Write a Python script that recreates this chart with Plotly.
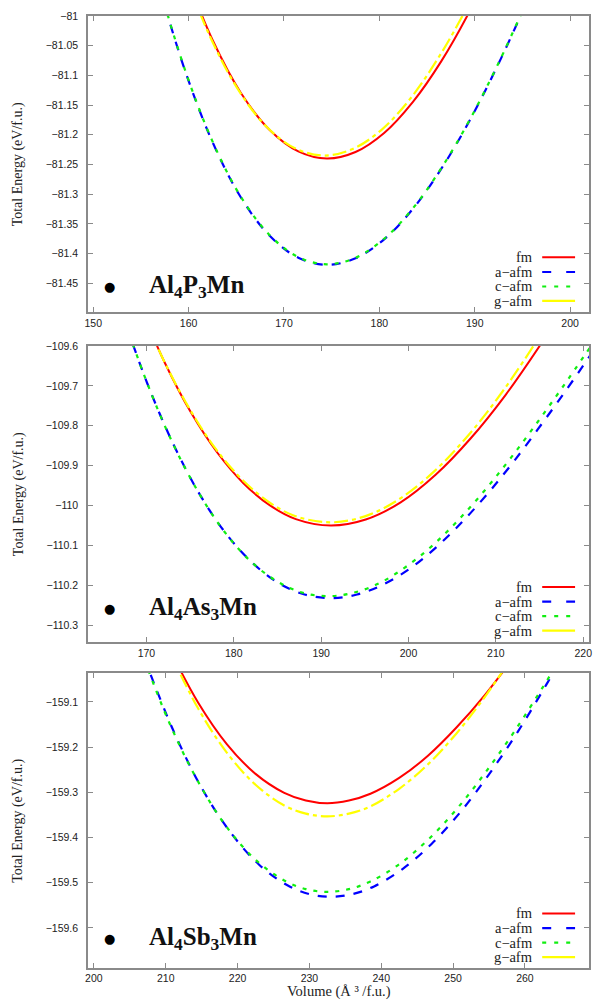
import plotly.graph_objects as go

# ---------------- data ----------------
# Panel 1 : Al4P3Mn
V1_fm = [159.5, 162.5, 165.5, 168.5, 171.5, 174.5, 177.5, 180.5, 183.5, 186.5, 189.5, 192.5]
E1_fm = [-80.921, -81.040, -81.130, -81.192, -81.228, -81.240, -81.229, -81.197, -81.145, -81.076, -80.991, -80.891]
V1_g = [159.2, 162.2, 165.2, 168.2, 171.2, 174.2, 177.2, 180.2, 183.2, 186.2, 189.2, 192.2]
E1_g = [-80.912, -81.033, -81.124, -81.187, -81.223, -81.235, -81.224, -81.192, -81.140, -81.070, -80.985, -80.885]
V1_a = [156.5, 159.5, 162.5, 165.5, 168.5, 171.5, 174.5, 177.5, 180.5, 183.5, 186.5, 189.5, 192.5, 195.5]
E1_a = [-80.927, -81.086, -81.212, -81.306, -81.370, -81.407, -81.419, -81.408, -81.376, -81.325, -81.257, -81.175, -81.080, -80.975]
V1_c = [156.5, 159.5, 162.5, 165.5, 168.5, 171.5, 174.5, 177.5, 180.5, 183.5, 186.5, 189.5, 192.5, 195.5]
E1_c = [-80.926, -81.085, -81.211, -81.305, -81.369, -81.406, -81.418, -81.407, -81.375, -81.324, -81.256, -81.174, -81.079, -80.974]

# Panel 2 : Al4As3Mn
V2_fm = [169.1, 172.1, 175.1, 178.1, 181.1, 184.1, 187.1, 191.1, 195.1, 199.1, 203.1, 207.1, 211.1, 215.1, 218.1]
E2_fm = [-109.492, -109.642, -109.767, -109.867, -109.944, -109.999, -110.034, -110.050, -110.035, -109.992, -109.923, -109.832, -109.723, -109.597, -109.494]
V2_g = [169.0, 172.0, 175.0, 178.0, 181.0, 184.0, 187.0, 191.0, 195.0, 199.0, 203.0, 207.0, 211.0, 215.0, 218.0]
E2_g = [-109.489, -109.637, -109.760, -109.860, -109.936, -109.991, -110.026, -110.042, -110.027, -109.983, -109.913, -109.820, -109.707, -109.576, -109.468]
V2_a = [167.1, 170.1, 173.1, 176.1, 179.1, 182.1, 185.1, 188.1, 191.1, 194.1, 197.1, 200.1, 203.1, 206.1, 209.1, 212.1, 215.1, 218.1, 221.1]
E2_a = [-109.511, -109.694, -109.847, -109.972, -110.070, -110.143, -110.194, -110.223, -110.232, -110.223, -110.198, -110.159, -110.106, -110.042, -109.969, -109.888, -109.800, -109.709, -109.614]
V2_c = [166.8, 169.8, 172.8, 175.8, 178.8, 181.8, 184.8, 187.8, 190.8, 193.8, 196.8, 199.8, 202.8, 205.8, 208.8, 211.8, 214.8, 217.8, 220.8]
E2_c = [-109.490, -109.677, -109.834, -109.961, -110.062, -110.137, -110.188, -110.218, -110.227, -110.218, -110.193, -110.152, -110.099, -110.034, -109.960, -109.878, -109.790, -109.698, -109.603]

# Panel 3 : Al4Sb3Mn
V3_fm = [210.5, 214.5, 218.5, 222.5, 226.5, 229.5, 232.5, 235.5, 238.5, 242.5, 246.5, 250.5, 254.5, 258.5]
E3_fm = [-158.982, -159.101, -159.193, -159.259, -159.301, -159.318, -159.324, -159.318, -159.303, -159.268, -159.219, -159.156, -159.083, -159.000]
V3_g = [210.5, 214.5, 218.5, 222.5, 226.5, 229.5, 232.5, 235.5, 238.5, 242.5, 246.5, 250.5, 254.5, 258.5]
E3_g = [-158.987, -159.114, -159.212, -159.283, -159.329, -159.347, -159.353, -159.347, -159.331, -159.292, -159.238, -159.169, -159.087, -158.994]
V3_a = [207, 211, 215, 219, 223, 227, 230, 233, 236, 239, 243, 247, 251, 255, 259, 263, 266]
E3_a = [-159.002, -159.161, -159.290, -159.388, -159.460, -159.506, -159.525, -159.531, -159.525, -159.508, -159.469, -159.414, -159.344, -159.260, -159.166, -159.061, -158.978]
V3_c = [206.5, 210.5, 214.5, 218.5, 222.5, 226.5, 229.5, 232.5, 235.5, 238.5, 242.5, 246.5, 250.5, 254.5, 258.5, 262.5, 265.5]
E3_c = [-158.984, -159.146, -159.276, -159.377, -159.449, -159.495, -159.514, -159.520, -159.514, -159.497, -159.459, -159.405, -159.337, -159.256, -159.166, -159.067, -158.989]

series_names = ["fm", "a\u2212afm", "c\u2212afm", "g\u2212afm"]
compound_labels = ["Al<sub>4</sub>P<sub>3</sub>Mn", "Al<sub>4</sub>As<sub>3</sub>Mn", "Al<sub>4</sub>Sb<sub>3</sub>Mn"]

x_ticks = [[150, 160, 170, 180, 190, 200],
           [170, 180, 190, 200, 210, 220],
           [200, 210, 220, 230, 240, 250, 260]]
y_ticks = [[-81.45, -81.4, -81.35, -81.3, -81.25, -81.2, -81.15, -81.1, -81.05, -81.0],
           [-110.3, -110.2, -110.1, -110.0, -109.9, -109.8, -109.7, -109.6],
           [-159.6, -159.5, -159.4, -159.3, -159.2, -159.1]]

x_title = "Volume (\u00c5 \u00b3 /f.u.)"
y_title = "Total Energy (eV/f.u.)"

# ---------------- styling ----------------
panels = [
    dict(fm=(V1_fm, E1_fm), a=(V1_a, E1_a), c=(V1_c, E1_c), g=(V1_g, E1_g)),
    dict(fm=(V2_fm, E2_fm), a=(V2_a, E2_a), c=(V2_c, E2_c), g=(V2_g, E2_g)),
    dict(fm=(V3_fm, E3_fm), a=(V3_a, E3_a), c=(V3_c, E3_c), g=(V3_g, E3_g)),
]
styles = {
    "fm": dict(color="#ff0000", width=2, dash="solid"),
    "a": dict(color="#0000ff", width=2.2, dash="9px,9px"),
    "c": dict(color="#11ee11", width=2.2, dash="4px,7px"),
    "g": dict(color="#ffff00", width=2.2, dash="14px,4px,4px,4px"),
}
legend_styles = {
    "fm": dict(color="#ff0000", width=2, dash="solid"),
    "a": dict(color="#0000ff", width=2.2, dash="9px,15px"),
    "c": dict(color="#11ee11", width=2.2, dash="4px,8px"),
    "g": dict(color="#ffff00", width=2.2, dash="solid"),
}
order = ["fm", "a", "c", "g"]

x_ranges = [[149.45, 201.98], [163.31, 220.66], [199.18, 268.92]]
y_ranges = [[-81.4983, -81.0], [-110.3411, -109.6], [-159.6885, -159.0358]]
y_domains = [[0.6891, 1.0], [0.3428, 0.6534], [0.0, 0.3099]]
label_y = [0.0855, 0.1106, 0.0983]
x_label_standoff = [1, 1, 0]

frame = "#8a8a8a"
tick_font = dict(family="Liberation Sans, Arial, sans-serif", size=10.5, color="#222222")
serif = "Liberation Serif, Times New Roman, serif"

fig = go.Figure()
layout = dict(
    width=593, height=1002,
    margin=dict(l=88, r=2, t=16, b=34),
    paper_bgcolor="white", plot_bgcolor="white",
    showlegend=False,
)
annotations = []
shapes = []

for i, pan in enumerate(panels):
    n = "" if i == 0 else str(i + 1)
    xa, ya = "x" + n, "y" + n
    for key in order:
        v, e = pan[key]
        fig.add_trace(go.Scatter(
            x=v, y=e, mode="lines", xaxis=xa, yaxis=ya,
            line=dict(shape="spline", smoothing=1, **styles[key]),
            name=series_names[order.index(key)], hoverinfo="skip",
        ))
    common = dict(showgrid=False, zeroline=False, showline=True, linecolor=frame, linewidth=1.5,
                  mirror="ticks", ticks="inside", ticklen=5, tickwidth=1, tickcolor=frame,
                  tickfont=tick_font)
    layout["xaxis" + n] = dict(common, range=x_ranges[i], tickvals=x_ticks[i], anchor=ya,
                               domain=[0, 1], ticklabelstandoff=x_label_standoff[i])
    layout["yaxis" + n] = dict(common, range=y_ranges[i], tickvals=y_ticks[i], anchor=xa,
                               domain=y_domains[i], ticklabelstandoff=6)

    xd, yd = xa + " domain", ya + " domain"
    # legend: text, then line sample to its right
    rows = [0.1848, 0.1351, 0.0861, 0.0372]
    for k, key in enumerate(order):
        annotations.append(dict(xref=xd, yref=yd, x=0.8926, y=rows[k], xanchor="right", yanchor="middle",
                                text=series_names[k], showarrow=False,
                                font=dict(family=serif, size=14.5, color="#222222")))
        shapes.append(dict(type="line", xref=xd, yref=yd, x0=0.9066, x1=0.9722, y0=rows[k], y1=rows[k],
                           line=legend_styles[key]))
    # compound label
    annotations.append(dict(xref=xd, yref=yd, x=0.0437, y=label_y[i], xanchor="center", yanchor="middle",
                            text="\u25cf", showarrow=False, font=dict(family="DejaVu Sans", size=13, color="black")))
    annotations.append(dict(xref=xd, yref=yd, x=0.1173, y=label_y[i], xanchor="left", yanchor="middle",
                            text="<b>" + compound_labels[i] + "</b>", showarrow=False,
                            font=dict(family=serif, size=25, color="#111111")))
    # y-axis title
    annotations.append(dict(xref="paper", yref=yd, x=-0.139, y=0.5, xanchor="center", yanchor="middle",
                            text=y_title, textangle=-90, showarrow=False,
                            font=dict(family=serif, size=14, color="#222222")))

annotations.append(dict(xref="paper", yref="paper", x=0.5, y=-0.0358, xanchor="center", yanchor="bottom",
                        text=x_title, showarrow=False, font=dict(family=serif, size=14.5, color="#222222")))

layout["annotations"] = annotations
layout["shapes"] = shapes
fig.update_layout(**layout)

fig.write_html("out.html", config={"displayModeBar": False},
               post_script="document.body.style.margin='0';")
